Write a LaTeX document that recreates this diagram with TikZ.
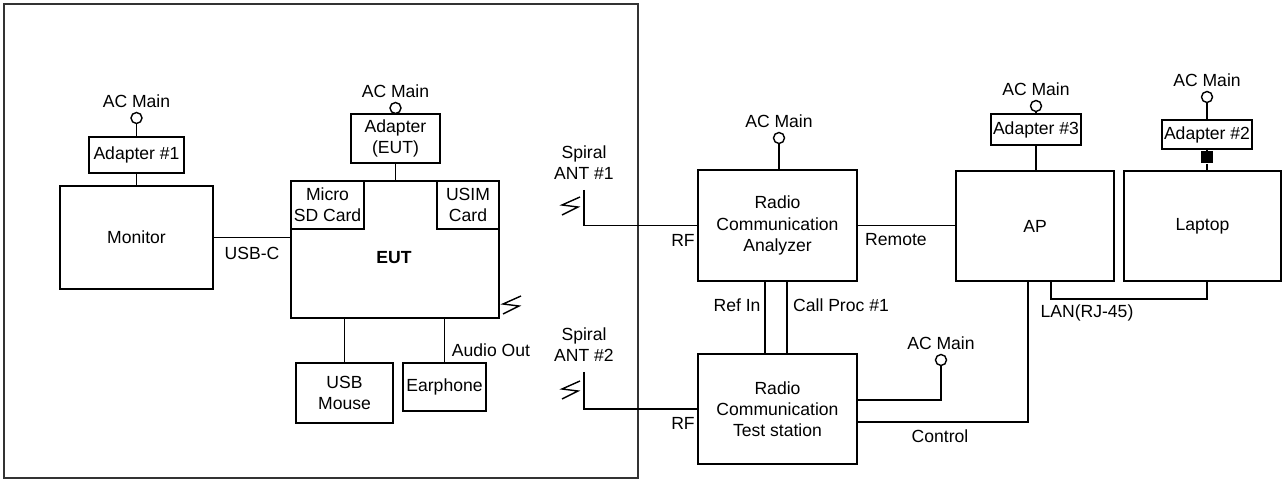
\documentclass[tikz,border=0pt]{standalone}
\usepackage{fontspec}
\setmainfont{Liberation Sans}
\usetikzlibrary{positioning, calc}
\tikzset{
  block/.style={rectangle, draw=black, line width=0.8pt, inner sep=0pt, align=center,
                font=\fontsize{10}{12}\selectfont},
  sz/.style 2 args={minimum width=#1*0.02cm, minimum height=#2*0.02cm},
  cardblock/.style={block, line width=1.5pt},
  plug/.style={circle, draw=black, line width=0.8pt, minimum size=0.22cm, inner sep=0pt, fill=white},
  wire/.style={draw=black, line width=0.8pt},
  lbl/.style={font=\fontsize{10}{12}\selectfont, inner sep=1pt, align=center},
  antsym/.pic={\draw[line width=0.8pt] (9,-9) -- (-9,-1) -- (7,1) -- (-9,9);},
}
\begin{document}
\begin{tikzpicture}[x=0.02cm, y=-0.02cm]
  \useasboundingbox (0,0) rectangle (1282,479);

  %% EUT side (frame)
  \draw[line width=0.8pt, draw=black!80] (4,4) rectangle (638,478);

  \node[block, sz={153}{103}] (monitor) at (136.5,237.5) {Monitor};
  \node[block, sz={95}{36}] (adp1) at (136.5,155) {Adapter \#1};
  \node[plug] (pl1) at (136.5,118) {};
  \node[lbl, above=1pt of pl1] {AC Main};
  \draw[wire] (pl1) -- (adp1);
  \draw[wire] (adp1) -- (monitor);

  \node[block, sz={208}{137}] (eut) at (395,249.5) {};
  \node[font=\fontsize{10}{12}\selectfont\bfseries] at (394,258) {EUT};
  \node[cardblock, sz={73}{48}] (sd) at (327.5,205) {Micro\\SD Card};
  \node[cardblock, sz={62}{48}] (usim) at (468,205) {USIM\\Card};
  \node[block, sz={89}{49}] (adpe) at (395.5,138.5) {Adapter\\(EUT)};
  \node[plug] (pl2) at (395.5,108) {};
  \node[lbl, above=1pt of pl2] {AC Main};
  \draw[wire] (pl2) -- (adpe);
  \draw[wire] (adpe) -- (adpe |- eut.north);
  \pic at (512,305) {antsym};

  \draw[wire] (monitor) -- (eut.west |- monitor.east) node[lbl, pos=0.5, below=4pt] {USB-C};

  \node[block, sz={97}{60}] (mouse) at (344.5,393) {USB\\Mouse};
  \node[block, sz={83}{48}] (earph) at (444.5,387) {Earphone};
  \draw[wire] (mouse.north) -- (mouse.north |- eut.south);
  \draw[wire] (earph.north) -- (earph.north |- eut.south);
  \node[lbl] at (491,350) {Audio Out};

  %% Antennas
  \node[lbl] (ant1) at (584,163) {Spiral\\ANT \#1};
  \pic at (571,206) {antsym};
  \node[lbl] (ant2) at (584,345) {Spiral\\ANT \#2};
  \pic at (571,390) {antsym};

  %% Test equipment
  \node[block, sz={159}{111}] (rca) at (777.5,225.5) {Radio\\Communication\\Analyzer};
  \node[plug] (pl3) at (779,138) {};
  \node[lbl, above=1pt of pl3] {AC Main};
  \draw[wire] (pl3) -- (pl3 |- rca.north);

  \node[block, sz={159}{110}] (rcts) at (777.5,409) {Radio\\Communication\\Test station};
  \node[plug] (pl4) at (941,360) {};
  \node[lbl, above=1pt of pl4] {AC Main};
  \draw[wire] (pl4) -- (941,400) -- (rcts.east |- 0,400);

  \coordinate (a1) at (584,190);
  \coordinate (a2) at (584,372);
  \draw[wire] (a1) |- (rca.west);
  \draw[wire] (a2) |- (rcts.west);
  \node[lbl] at (683,240) {RF};
  \node[lbl] at (683,423) {RF};

  \draw[wire] (rca.south -| 765,0) -- (rcts.north -| 765,0);
  \draw[wire] (rca.south -| 787,0) -- (rcts.north -| 787,0);
  \node[lbl] at (737,305) {Ref In};
  \node[lbl] at (841,305) {Call Proc \#1};

  %% AP and laptop
  \node[block, sz={158}{110}] (ap) at (1035,226) {AP};
  \node[block, sz={90}{31}] (adp3) at (1036,129.5) {Adapter \#3};
  \node[plug] (pl5) at (1036,106) {};
  \node[lbl, above=1pt of pl5] {AC Main};
  \draw[wire] (pl5) -- (adp3);
  \draw[wire] (adp3) -- (adp3 |- ap.north);

  \node[block, sz={157}{110}] (laptop) at (1202.5,226) {Laptop};
  \node[block, sz={90}{29}] (adp2) at (1207,134.5) {Adapter \#2};
  \node[plug] (pl6) at (1207,97) {};
  \node[lbl, above=1pt of pl6] {AC Main};
  \node[rectangle, fill=black, minimum width=0.24cm, minimum height=0.24cm, inner sep=0pt] (dc) at (1207,157.5) {};
  \draw[wire] (pl6) -- (adp2);
  \draw[wire] (adp2) -- (dc);
  \draw[wire] (dc) -- (dc |- laptop.north);

  \draw[wire] (rca.east) -- (ap.west |- rca.east);
  \node[lbl] at (896,240) {Remote};

  \draw[wire] (ap.south -| 1051,0) -- (1051,299) -| (laptop.south -| 1207,0);
  \node[lbl] at (1087,313) {LAN(RJ-45)};

  \draw[wire] (ap.south -| 1028,0) -- (1028,422) -- (rcts.east |- 0,422);
  \node[lbl] at (940,436) {Control};
\end{tikzpicture}
\end{document}
